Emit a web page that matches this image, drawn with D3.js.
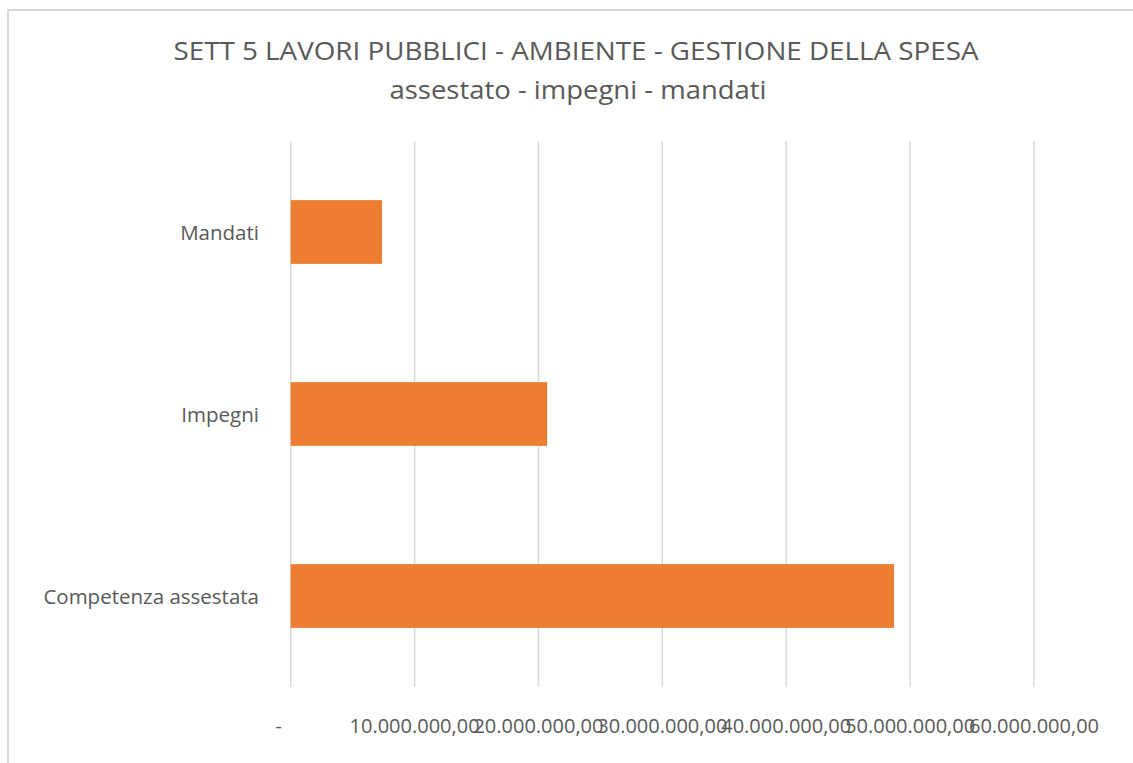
<!DOCTYPE html>
<html>
<head>
<meta charset="utf-8">
<script src="https://cdn.jsdelivr.net/npm/d3@7"></script>
<style>
    body { margin: 0; background: #fff; }
    svg { display: block; font-family: 'Open Sans', sans-serif; }
</style>
</head>
<body>
<div id="chart"></div>
<script>
// data
const categories = ['Competenza assestata', 'Impegni', 'Mandati'];
const values = [48700000, 20700000, 7370000];
const tickValues = [0, 10000000, 20000000, 30000000, 40000000, 50000000, 60000000];
const titleLines = ['SETT 5 LAVORI PUBBLICI - AMBIENTE - GESTIONE DELLA SPESA',
                    'assestato - impegni - mandati'];

const width = 1133, height = 763;
const plot = { left: 290.7, right: 1034, top: 141, bottom: 687 };

const svg = d3.select('#chart').append('svg')
    .attr('width', width)
    .attr('height', height);

// chart frame (only top and left edges show)
svg.append('rect')
    .attr('x', 8).attr('y', 10)
    .attr('width', width + 20).attr('height', height + 20)
    .attr('fill', 'none')
    .attr('stroke', '#d9d9d9')
    .attr('stroke-width', 2);

// title
svg.append('text')
    .attr('x', 576).attr('y', 60)
    .attr('text-anchor', 'middle')
    .attr('font-size', 25)
    .attr('fill', '#595959')
    .attr('textLength', 805)
    .attr('lengthAdjust', 'spacingAndGlyphs')
    .text(titleLines[0]);
svg.append('text')
    .attr('x', 578).attr('y', 99)
    .attr('text-anchor', 'middle')
    .attr('font-size', 25)
    .attr('fill', '#595959')
    .attr('textLength', 377)
    .attr('lengthAdjust', 'spacingAndGlyphs')
    .text(titleLines[1]);

const x = d3.scaleLinear()
    .domain([0, 60000000])
    .range([plot.left, plot.right]);

// bottom category first, as in Excel bar charts
const y = d3.scaleBand()
    .domain(categories.slice().reverse())
    .range([plot.top, plot.bottom])
    .paddingInner(0.65)
    .paddingOuter(0.325);

// gridlines
svg.append('g')
    .selectAll('line')
    .data(tickValues)
    .join('line')
    .attr('x1', d => x(d)).attr('x2', d => x(d))
    .attr('y1', plot.top).attr('y2', plot.bottom)
    .attr('stroke', '#d9d9d9')
    .attr('stroke-width', 1.5);

// bars
svg.append('g')
    .selectAll('rect')
    .data(categories)
    .join('rect')
    .attr('x', x(0))
    .attr('y', d => y(d))
    .attr('width', (d, i) => x(values[i]) - x(0))
    .attr('height', y.bandwidth())
    .attr('fill', '#ed7d31');

// category labels
svg.append('g')
    .selectAll('text')
    .data(categories)
    .join('text')
    .attr('x', 259)
    .attr('y', d => y(d) + y.bandwidth() / 2)
    .attr('text-anchor', 'end')
    .attr('dominant-baseline', 'central')
    .attr('font-size', 20.5)
    .attr('fill', '#595959')
    .text(d => d);

// value axis labels (italian format, "-" for zero)
const fmt = d3.formatLocale({ decimal: ',', thousands: '.', grouping: [3], currency: ['', ''] }).format(',.2f');
svg.append('g')
    .selectAll('text')
    .data(tickValues)
    .join('text')
    .attr('x', d => d === 0 ? x(d) - 12 : x(d))
    .attr('y', 733)
    .attr('text-anchor', 'middle')
    .attr('font-size', 20)
    .attr('fill', '#595959')
    .text(d => d === 0 ? '-' : fmt(d));
</script>
</body>
</html>
